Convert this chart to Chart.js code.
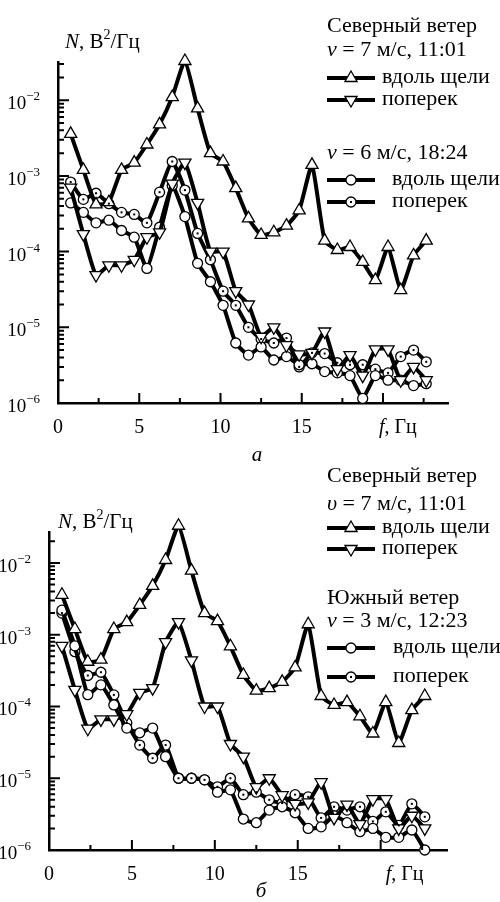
<!DOCTYPE html>
<html lang="ru">
<head>
<meta charset="utf-8">
<title>Спектры</title>
<script src="https://cdn.jsdelivr.net/npm/chart.js@4.4.1/dist/chart.umd.min.js"></script>
<style>
  html, body { margin: 0; padding: 0; background: #fff; }
  #wrap { position: relative; width: 500px; height: 902px; overflow: hidden; }
  #wrap canvas { position: absolute; left: 0; top: 0; }
</style>
</head>
<body>
<div id="wrap">
  <canvas id="chartA" width="500" height="902"></canvas>
  <canvas id="chartB" width="500" height="902"></canvas>
</div>
<script>
(function () {
    // частоты, Гц
    const freq = [0.78, 1.56, 2.34, 3.13, 3.91, 4.69, 5.47, 6.25, 7.03, 7.81, 8.59, 9.38, 10.16, 10.94, 11.72,
        12.5, 13.28, 14.06, 14.84, 15.63, 16.41, 17.19, 17.97, 18.75, 19.53, 20.31, 21.09, 21.88, 22.66];

    // Северный ветер, 7 м/с, 11:01 (на обоих рисунках)
    const northAlong = [3.6e-3, 1.2e-3, 4.2e-4, 4.5e-4, 1.2e-3, 1.5e-3, 2.6e-3, 4.8e-3, 1.1e-2, 3.3e-2, 7.8e-3, 2.0e-3,
        1.55e-3, 6.9e-4, 2.75e-4, 1.66e-4, 1.8e-4, 2.2e-4, 3.5e-4, 1.4e-3, 1.4e-4, 1.05e-4, 1.15e-4, 7.3e-5, 4.2e-5,
        1.15e-4, 3.1e-5, 8.9e-5, 1.4e-4];
    const northAcross = [7e-4, 1.7e-4, 4.9e-5, 6.6e-5, 6.6e-5, 7.8e-5, 1.55e-4, 1.8e-4, 7.9e-4, 1.5e-3, 4.4e-4, 1.0e-4,
        1.0e-4, 3.0e-5, 2.0e-5, 7.5e-6, 1.0e-5, 5.8e-6, 4.4e-6, 4.6e-6, 8.8e-6, 2.8e-6, 4.3e-6, 2.3e-6, 5.1e-6, 5.1e-6,
        2.0e-6, 3.0e-6, 2.0e-6];

    // v = 6 м/с, 18:24
    const v6Along = [4.4e-4, 3.3e-4, 2.4e-4, 2.6e-4, 1.9e-4, 1.55e-4, 6e-5, 2.1e-4, 7.5e-4, 2.9e-4, 7e-5, 4e-5, 1.95e-5,
        6.2e-6, 4.3e-6, 5.5e-6, 3.7e-6, 4.1e-6, 3.2e-6, 3.3e-6, 2.6e-6, 2.5e-6, 2.3e-6, 1.15e-6, 2.3e-6, 2.0e-6, 2.0e-6,
        1.7e-6, 1.8e-6];
    const v6Across = [8.3e-4, 4.9e-4, 5.9e-4, 4.3e-4, 3.3e-4, 3.1e-4, 2.4e-4, 6.1e-4, 1.55e-3, 6.5e-4, 1.74e-4, 7.8e-5,
        3.0e-5, 1.95e-5, 1.0e-5, 7e-6, 6.2e-6, 7.2e-6, 3.0e-6, 4.6e-6, 4.5e-6, 3.4e-6, 3.2e-6, 3.2e-6, 2.8e-6, 2.5e-6,
        4.1e-6, 5.0e-6, 3.5e-6];

    // Южный ветер, 3 м/с, 12:23
    const southAlong = [2.2e-3, 7e-4, 1.46e-4, 2.0e-4, 1.05e-4, 5.0e-5, 4.3e-5, 5.0e-5, 2.0e-5, 1.0e-5, 1.0e-5, 9.5e-6,
        6.4e-6, 6.9e-6, 2.7e-6, 2.4e-6, 3.6e-6, 4.0e-6, 3.3e-6, 2.0e-6, 2.1e-6, 3.0e-6, 2.4e-6, 1.8e-6, 2.0e-6, 1.5e-6,
        1.5e-6, 1.9e-6, 1.0e-6];
    const southAcross = [2.0e-3, 5.8e-4, 2.7e-4, 3.0e-4, 1.45e-4, 5.9e-5, 2.9e-5, 1.9e-5, 2.9e-5, 1.0e-5, 1.0e-5, 9.5e-6,
        7.6e-6, 1.0e-5, 5.9e-6, 6.4e-6, 5.0e-6, 4.5e-6, 5.9e-6, 5.5e-6, 2.8e-6, 4.0e-6, 3.6e-6, 4.0e-6, 2.5e-6, 3.4e-6,
        2.2e-6, 4.4e-6, 2.9e-6];

    // подписи осей
    const xTickValues = [0, 5, 10, 15];
    const xTickLabels = ['0', '5', '10', '15'];
    const xMinorTicks = [2.5, 7.5, 12.5, 17.5, 22.5];
    const xMajorTicks = [5, 10, 15, 20];
    const yDecades = [1e-6, 1e-5, 1e-4, 1e-3, 1e-2];
    const yExponents = ['\u22126', '\u22125', '\u22124', '\u22123', '\u22122'];

    const FAM = "'Liberation Serif', 'Times New Roman', serif";
    const font = (size, italic) => (italic ? 'italic ' : '') + size + 'px ' + FAM;

    function rich(ctx, parts, x, y, align) {
        // parts: [text, size, italic, dy]
        let total = 0;
        parts.forEach(p => { ctx.font = font(p[1], p[2]); total += ctx.measureText(p[0]).width; });
        let cx = align === 'right' ? x - total : align === 'center' ? x - total / 2 : x;
        parts.forEach(p => {
            ctx.font = font(p[1], p[2]);
            ctx.fillText(p[0], cx, y + (p[3] || 0));
            cx += ctx.measureText(p[0]).width;
        });
    }

    function marker(ctx, kind, x, y) {
        ctx.save();
        ctx.fillStyle = '#fff';
        ctx.strokeStyle = '#000';
        ctx.lineWidth = 1.3;
        ctx.beginPath();
        if (kind === 'up' || kind === 'down') {
            const r = 7, s = kind === 'up' ? 1 : -1;
            ctx.moveTo(x, y - s * r);
            ctx.lineTo(x + r * 0.866, y + s * r * 0.5);
            ctx.lineTo(x - r * 0.866, y + s * r * 0.5);
            ctx.closePath();
        } else {
            ctx.arc(x, y, 5, 0, Math.PI * 2);
        }
        ctx.fill();
        ctx.stroke();
        if (kind === 'dot') {
            ctx.fillStyle = '#000';
            ctx.fillRect(x - 1, y - 1, 2, 2);
        }
        ctx.restore();
    }

    function serie(values, kind) {
        return {
            data: values.map((v, i) => ({ x: freq[i], y: v })),
            kind: kind,
            borderColor: '#000',
            borderWidth: 4,
            borderJoinStyle: 'round',
            tension: 0.15,
            clip: false,
            pointStyle: kind === 'up' || kind === 'down' ? 'triangle' : 'circle',
            pointRotation: kind === 'down' ? 180 : 0,
            pointRadius: kind === 'up' || kind === 'down' ? 7 : 5,
            pointBorderWidth: 1.3,
            pointBackgroundColor: '#fff',
            pointBorderColor: '#000'
        };
    }

    function decor(p) {
        return {
            id: 'decor',
            afterDatasetsDraw(chart) {
                const ctx = chart.ctx;
                ctx.save();
                ctx.fillStyle = '#000';
                chart.data.datasets.forEach((ds, i) => {
                    if (ds.kind !== 'dot') return;
                    chart.getDatasetMeta(i).data.forEach(pt => ctx.fillRect(pt.x - 1, pt.y - 1, 2, 2));
                });
                ctx.restore();
            },
            afterDraw(chart) {
                const { ctx, chartArea: a, scales: { x, y } } = chart;
                ctx.save();
                ctx.strokeStyle = '#000';
                ctx.fillStyle = '#000';
                ctx.lineWidth = 2;
                ctx.beginPath();
                xMinorTicks.forEach(v => { const px = x.getPixelForValue(v); ctx.moveTo(px, a.bottom); ctx.lineTo(px, a.bottom - 5); });
                xMajorTicks.forEach(v => { const px = x.getPixelForValue(v); ctx.moveTo(px, a.bottom); ctx.lineTo(px, a.bottom - 10); });
                yDecades.forEach(d => {
                    for (let m = 1; m <= 9; m++) {
                        const v = d * m;
                        if (v > y.max * 1.001) break;
                        const py = y.getPixelForValue(v);
                        ctx.moveTo(a.left, py);
                        ctx.lineTo(a.left + (m === 1 ? 11 : 6), py);
                    }
                });
                ctx.stroke();

                ctx.textBaseline = 'alphabetic';
                xTickValues.forEach((v, i) => rich(ctx, [[xTickLabels[i], 20, false]], x.getPixelForValue(v), a.bottom + 30, 'center'));
                rich(ctx, [['f', 20, true], [', Гц', 20, false]], x.getPixelForValue(20) + p.fShift, a.bottom + 30, 'left');
                yDecades.forEach((d, i) => rich(ctx, [['10', 19, false], [yExponents[i], 13, false, -9]],
                    a.left - 18, y.getPixelForValue(d) + 9, 'right'));
                rich(ctx, [['N', 21, true], [', В', 21, false], ['2', 14, false, -9], ['/Гц', 21, false]], p.nLabel[0], p.nLabel[1], 'left');
                rich(ctx, [[p.sub, 21, true]], p.subPos[0], p.subPos[1], 'center');

                p.legend.forEach(row => {
                    if (row.kind) {
                        ctx.lineWidth = 4;
                        ctx.beginPath();
                        ctx.moveTo(327, row.y);
                        ctx.lineTo(375, row.y);
                        ctx.stroke();
                        marker(ctx, row.kind, 351, row.y);
                        rich(ctx, [[row.text, 22, false]], row.tx, row.y + 5, 'left');
                    } else {
                        rich(ctx, row.parts, 327, row.y + 7, 'left');
                    }
                });
                ctx.restore();
            }
        };
    }

    function makeChart(id, datasets, pad, yMax, p) {
        return new Chart(document.getElementById(id), {
            type: 'line',
            data: { datasets: datasets },
            options: {
                responsive: false,
                animation: false,
                events: [],
                layout: { padding: pad },
                plugins: { legend: { display: false }, tooltip: { enabled: false } },
                scales: {
                    x: {
                        type: 'linear', min: 0, max: 24,
                        grid: { display: false, drawTicks: false },
                        ticks: { display: false },
                        border: { display: true, width: 2.5, color: '#000' }
                    },
                    y: {
                        type: 'logarithmic', min: 1e-6, max: yMax,
                        grid: { display: false, drawTicks: false },
                        ticks: { display: false },
                        border: { display: true, width: 2.5, color: '#000' }
                    }
                }
            },
            plugins: [decor(p)]
        });
    }

    makeChart('chartA', [
        serie(northAlong, 'up'),
        serie(northAcross, 'down'),
        serie(v6Along, 'circle'),
        serie(v6Across, 'dot')
    ], { left: 58, right: 52, top: 62, bottom: 499 }, 3.2e-2, {
        fShift: -4,
        nLabel: [65, 48],
        sub: 'а',
        subPos: [257, 461],
        legend: [
            { y: 25, parts: [['Северный ветер', 22, false]] },
            { y: 49, parts: [['v', 22, true], [' = 7 м/с, 11:01', 22, false]] },
            { y: 78, kind: 'up', text: 'вдоль щели', tx: 382 },
            { y: 100, kind: 'down', text: 'поперек', tx: 382 },
            { y: 152, parts: [['v', 22, true], [' = 6 м/с, 18:24', 22, false]] },
            { y: 180, kind: 'circle', text: 'вдоль щели', tx: 392 },
            { y: 202, kind: 'dot', text: 'поперек', tx: 392 }
        ]
    });

    makeChart('chartB', [
        serie(northAlong, 'up'),
        serie(northAcross, 'down'),
        serie(southAlong, 'circle'),
        serie(southAcross, 'dot')
    ], { left: 49, right: 53, top: 532, bottom: 52 }, 2.7e-2, {
        fShift: 5,
        nLabel: [58, 528],
        sub: 'б',
        subPos: [261, 897],
        legend: [
            { y: 475, parts: [['Северный ветер', 22, false]] },
            { y: 503, parts: [['\u03c5', 22, true], [' = 7 м/с, 11:01', 22, false]] },
            { y: 528, kind: 'up', text: 'вдоль щели', tx: 382 },
            { y: 549, kind: 'down', text: 'поперек', tx: 382 },
            { y: 597, parts: [['Южный ветер', 22, false]] },
            { y: 620, parts: [['v', 22, true], [' = 3 м/с, 12:23', 22, false]] },
            { y: 648, kind: 'circle', text: 'вдоль щели', tx: 393 },
            { y: 677, kind: 'dot', text: 'поперек', tx: 393 }
        ]
    });
})();
</script>
</body>
</html>
